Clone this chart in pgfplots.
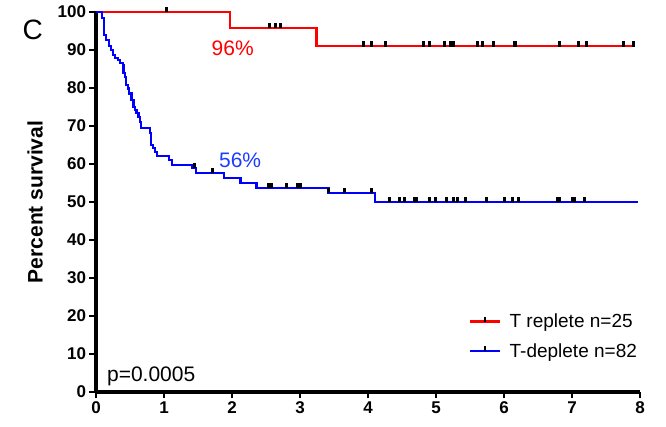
\documentclass[border=0pt]{standalone}
\usepackage{pgfplots}
\pgfplotsset{compat=1.18}
\usepackage{fontspec}
\setmainfont{Liberation Sans}
\definecolor{kmred}{RGB}{255,0,0}
\definecolor{kmblue}{RGB}{0,0,255}
\definecolor{lblblue}{RGB}{30,60,255}
\begin{document}
\begin{tikzpicture}
\useasboundingbox (0,0) rectangle (666pt,427pt);
\begin{axis}[
  at={(96pt,35pt)}, anchor=south west,
  scale only axis, width=544pt, height=380pt,
  xmin=0, xmax=8, ymin=0, ymax=100,
  axis lines=left, axis line style={-, line width=3.2pt},
  xtick={0,...,8}, ytick={0,10,...,100},
  tick align=outside, major tick length=6.5pt,
  major tick style={line width=2.8pt, black},
  /pgf/number format/assume math mode=true,
  tick label style={font=\bfseries\fontsize{17}{20}\selectfont},
  ylabel={Percent survival},
  ylabel style={at={(axis description cs:-0.112,0.5)}, anchor=center, font=\bfseries\fontsize{21}{24}\selectfont},
  clip=false,
  legend style={at={(axis description cs:0.680,0.216)}, anchor=north west, draw=none, fill=none,
    font=\fontsize{19}{22}\selectfont, row sep=10pt,
    /tikz/every odd column/.append style={column sep=6pt}},
  legend cell align=left,
  legend image code/.code={\draw[#1, line width=2.5pt] (0pt,0pt) -- (30pt,0pt);
     \draw[black, line width=2.2pt] (15pt,0pt) -- (15pt,5pt);},
]
\addplot[kmred, line width=2.5pt, const plot] coordinates {
(0,100) (1.97,95.8) (3.24,91.0) (7.93,91.0)};
\addlegendentry{T replete n=25}
\addplot[kmblue, line width=2.5pt, const plot] coordinates {
(0,100) (0.088,98.4) (0.118,93.9) (0.147,92.6) (0.191,91.1) (0.221,90.0) (0.25,88.7) (0.279,87.9) (0.324,87.4) (0.353,86.6) (0.397,86.1) (0.407,83.9) (0.426,82.9) (0.441,80.8) (0.471,79.9) (0.485,78.6) (0.525,76.8) (0.549,75.0) (0.574,74.2) (0.599,73.4) (0.622,72.4) (0.647,71.1) (0.662,69.5) (0.794,68.2) (0.809,65.0) (0.838,64.2) (0.868,63.2) (0.897,62.1) (1.074,61.1) (1.118,59.7) (1.412,58.9) (1.471,57.6) (1.882,56.3) (2.128,55.0) (2.363,53.7) (3.416,52.4) (4.103,50.0) (7.97,50.0)};
\addlegendentry{T-deplete n=82}
% censor marks (offset above the line)
\addplot[forget plot, only marks, mark=|, mark size=2.6pt, mark options={line width=3pt, black}] coordinates {
(1.03,100.6) (2.55,96.4) (2.64,96.4) (2.72,96.4)
(3.93,91.6) (4.05,91.6) (4.25,91.6) (4.81,91.6) (4.90,91.6) (5.12,91.6) (5.22,91.6) (5.26,91.6) (5.61,91.6) (5.69,91.6) (5.85,91.6) (6.15,91.6) (6.17,91.6) (6.81,91.6) (7.09,91.6) (7.22,91.6) (7.75,91.6) (7.90,91.6)};
\addplot[forget plot, only marks, mark=|, mark size=2.6pt, mark options={line width=3pt, black}] coordinates {
(1.45,59.5) (1.71,58.2)
(2.53,54.3) (2.58,54.3) (2.80,54.3) (2.96,54.3) (3.01,54.3)
(3.42,53.0) (3.66,53.0) (4.05,53.0)
(4.32,50.6) (4.47,50.6) (4.54,50.6) (4.69,50.6) (4.72,50.6) (4.90,50.6) (4.99,50.6) (5.15,50.6) (5.26,50.6) (5.31,50.6) (5.43,50.6) (5.74,50.6) (6.00,50.6) (6.13,50.6) (6.22,50.6) (6.78,50.6) (6.81,50.6) (7.00,50.6) (7.04,50.6) (7.19,50.6)};
\node[kmred, font=\fontsize{21}{24}\selectfont] at (axis cs:2.01,90.5) {96\%};
\node[lblblue, font=\fontsize{21}{24}\selectfont] at (axis cs:2.12,61.0) {56\%};
\node[anchor=west, font=\fontsize{21}{24}\selectfont, inner sep=0pt] at (axis cs:0.16,4.0) {p=0.0005};
\node[font=\fontsize{28}{32}\selectfont] at (axis cs:-0.93,95.3) {C};
\end{axis}
\end{tikzpicture}
\end{document}
